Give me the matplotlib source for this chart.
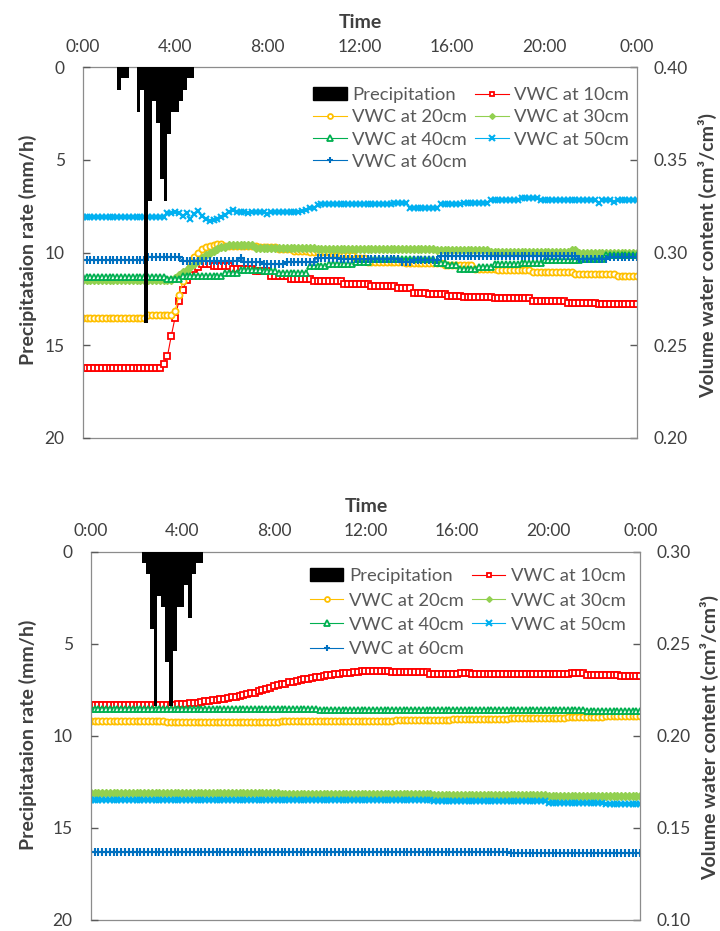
import numpy as np
import matplotlib
matplotlib.use('Agg')
import matplotlib.pyplot as plt
from matplotlib.patches import Patch

plt.rcParams['font.family'] = ['Lato', 'DejaVu Sans']

# ---------------- data ----------------
time_tick_hours = [0, 4, 8, 12, 16, 20, 24]
time_tick_labels = ['0:00', '4:00', '8:00', '12:00', '16:00', '20:00', '0:00']
step_min = 10  # VWC readings every 10 minutes, 0:00 .. 24:00 (145 points)

series_labels = ['VWC at 10cm', 'VWC at 20cm', 'VWC at 30cm',
                 'VWC at 40cm', 'VWC at 50cm', 'VWC at 60cm']

# ---- Top chart: precipitation (10-min bins, start minute) in mm/h
top_rain_start_min = [90, 100, 110, 140, 150, 160, 170, 180, 190, 200, 210,
                      220, 230, 240, 250, 260, 270, 280]
top_rain_rate = [1.2, 0.6, 0.6, 2.4, 1.2, 13.8, 7.2, 1.8, 3.0, 6.0, 7.2,
                 3.6, 2.4, 2.4, 1.8, 1.2, 0.6, 0.6]

top_vwc10 = [
    0.238, 0.238, 0.238, 0.238, 0.238, 0.238, 0.238, 0.238, 0.238, 0.238,
    0.238, 0.238, 0.238, 0.238, 0.238, 0.238, 0.238, 0.238, 0.238, 0.238,
    0.238, 0.240, 0.244, 0.255, 0.265, 0.274, 0.280, 0.285, 0.289, 0.291,
    0.292, 0.2937, 0.2937, 0.2937, 0.2928, 0.2928, 0.2928, 0.2928, 0.2928, 0.2914,
    0.2914, 0.2914, 0.2914, 0.2914, 0.2914, 0.290, 0.290, 0.290, 0.290, 0.2874,
    0.2874, 0.2874, 0.2874, 0.2874, 0.286, 0.286, 0.286, 0.286, 0.286, 0.286,
    0.2847, 0.2847, 0.2847, 0.2847, 0.2847, 0.2847, 0.2847, 0.2847, 0.283, 0.283,
    0.283, 0.283, 0.283, 0.283, 0.283, 0.282, 0.282, 0.282, 0.282, 0.282,
    0.282, 0.282, 0.281, 0.281, 0.281, 0.281, 0.2785, 0.2785, 0.2785, 0.2785,
    0.2777, 0.2777, 0.2777, 0.2777, 0.2777, 0.2767, 0.2767, 0.2767, 0.2767, 0.276,
    0.276, 0.276, 0.276, 0.276, 0.276, 0.276, 0.276, 0.2753, 0.2753, 0.2753,
    0.2753, 0.2753, 0.2753, 0.2753, 0.2753, 0.2753, 0.2753, 0.274, 0.274, 0.274,
    0.274, 0.274, 0.274, 0.274, 0.274, 0.274, 0.2731, 0.2731, 0.2731, 0.2731,
    0.2731, 0.2731, 0.2731, 0.2731, 0.2722, 0.2722, 0.2722, 0.2722, 0.2722, 0.2722,
    0.2722, 0.2722, 0.2722, 0.2722, 0.2722]

top_vwc20 = [
    0.265, 0.265, 0.265, 0.265, 0.265, 0.265, 0.265, 0.265, 0.265, 0.265,
    0.265, 0.265, 0.265, 0.265, 0.265, 0.265, 0.265, 0.2663, 0.2663, 0.2663,
    0.2663, 0.2663, 0.2663, 0.2663, 0.2685, 0.277, 0.2845, 0.290, 0.2945, 0.2975,
    0.300, 0.3017, 0.3028, 0.3036, 0.3043, 0.3047, 0.3045, 0.3035, 0.3035, 0.3035,
    0.3035, 0.3035, 0.3035, 0.3035, 0.3035, 0.3035, 0.3028, 0.3028, 0.3028, 0.3028,
    0.3028, 0.302, 0.302, 0.302, 0.302, 0.301, 0.301, 0.301, 0.301, 0.3003,
    0.3003, 0.3003, 0.3003, 0.3003, 0.3003, 0.299, 0.299, 0.299, 0.299, 0.299,
    0.299, 0.2973, 0.2973, 0.2973, 0.295, 0.295, 0.295, 0.295, 0.295, 0.295,
    0.295, 0.295, 0.295, 0.295, 0.2946, 0.2946, 0.2946, 0.2946, 0.2946, 0.2946,
    0.2946, 0.2946, 0.2946, 0.2946, 0.2932, 0.2932, 0.2932, 0.2932, 0.2932, 0.2932,
    0.2932, 0.2932, 0.291, 0.291, 0.291, 0.291, 0.291, 0.291, 0.2907, 0.2907,
    0.2907, 0.2907, 0.2907, 0.2907, 0.2907, 0.2907, 0.2907, 0.2896, 0.2896, 0.2896,
    0.2896, 0.2896, 0.2896, 0.2896, 0.2896, 0.2896, 0.2896, 0.2896, 0.2887, 0.2887,
    0.2887, 0.2887, 0.2887, 0.2887, 0.2887, 0.2887, 0.2887, 0.2887, 0.2887, 0.2874,
    0.2874, 0.2874, 0.2874, 0.2874, 0.2874]

top_vwc30 = [
    0.2853, 0.2853, 0.2853, 0.2853, 0.2853, 0.2853, 0.2853, 0.2853, 0.2853, 0.2853,
    0.2853, 0.2853, 0.2853, 0.2853, 0.2853, 0.2853, 0.2853, 0.2853, 0.2853, 0.2853,
    0.2853, 0.2853, 0.2853, 0.2853, 0.2863, 0.2877, 0.2893, 0.2905, 0.2922, 0.2937,
    0.2953, 0.297, 0.2986, 0.2997, 0.3008, 0.3017, 0.3028, 0.3033, 0.3042, 0.3042,
    0.3042, 0.3042, 0.3042, 0.3042, 0.3042, 0.3027, 0.3027, 0.3027, 0.3027, 0.3027,
    0.3027, 0.3027, 0.3027, 0.3027, 0.3027, 0.3027, 0.3027, 0.3027, 0.3027, 0.3027,
    0.3027, 0.3022, 0.3022, 0.3022, 0.3022, 0.3022, 0.3022, 0.3022, 0.3022, 0.3022,
    0.3022, 0.3022, 0.3022, 0.3022, 0.3022, 0.3022, 0.3022, 0.3022, 0.3022, 0.3022,
    0.3022, 0.3022, 0.3022, 0.3022, 0.3022, 0.3022, 0.3022, 0.3022, 0.3022, 0.3022,
    0.3022, 0.3022, 0.3012, 0.3012, 0.3012, 0.3012, 0.3012, 0.3012, 0.3012, 0.3012,
    0.3012, 0.3012, 0.3012, 0.3012, 0.3014, 0.3014, 0.3005, 0.3005, 0.3005, 0.3005,
    0.3005, 0.3005, 0.3005, 0.3005, 0.3005, 0.3005, 0.3005, 0.3005, 0.3005, 0.3005,
    0.3005, 0.3005, 0.3005, 0.3005, 0.3005, 0.3005, 0.3005, 0.3014, 0.3014, 0.300,
    0.300, 0.300, 0.300, 0.300, 0.300, 0.300, 0.300, 0.300, 0.300, 0.300,
    0.300, 0.300, 0.300, 0.300, 0.300]

top_vwc40 = [
    0.2871, 0.2871, 0.2871, 0.2871, 0.2871, 0.2871, 0.2871, 0.2871, 0.2871, 0.2871,
    0.2871, 0.2871, 0.2871, 0.2871, 0.2871, 0.2871, 0.2871, 0.2871, 0.2871, 0.2871,
    0.2871, 0.2871, 0.286, 0.286, 0.286, 0.286, 0.2876, 0.2876, 0.2874, 0.2874,
    0.2874, 0.2874, 0.2874, 0.2874, 0.2874, 0.2874, 0.2874, 0.2889, 0.2889, 0.2889,
    0.2889, 0.2906, 0.2906, 0.2906, 0.2906, 0.2906, 0.2906, 0.290, 0.290, 0.290,
    0.290, 0.2892, 0.2892, 0.2892, 0.2892, 0.2892, 0.2892, 0.2892, 0.2892, 0.2928,
    0.2928, 0.2928, 0.2928, 0.2928, 0.2937, 0.2937, 0.2937, 0.2937, 0.2937, 0.2937,
    0.2937, 0.295, 0.295, 0.295, 0.295, 0.2966, 0.2966, 0.2966, 0.2966, 0.2966,
    0.2966, 0.2966, 0.2966, 0.2966, 0.2966, 0.2966, 0.2966, 0.2966, 0.2966, 0.2966,
    0.2966, 0.2966, 0.2946, 0.2946, 0.2946, 0.2932, 0.2932, 0.2932, 0.2914, 0.2914,
    0.2914, 0.2914, 0.2914, 0.292, 0.292, 0.292, 0.292, 0.2937, 0.2937, 0.2937,
    0.2937, 0.2937, 0.2937, 0.2937, 0.2946, 0.2946, 0.2946, 0.2946, 0.2946, 0.2946,
    0.2958, 0.2958, 0.2958, 0.2958, 0.2958, 0.2958, 0.2958, 0.2958, 0.2958, 0.2958,
    0.2968, 0.2968, 0.2968, 0.2968, 0.2968, 0.2968, 0.299, 0.299, 0.299, 0.299,
    0.299, 0.299, 0.299, 0.299, 0.299]

top_vwc50 = [
    0.319, 0.319, 0.319, 0.319, 0.319, 0.319, 0.319, 0.319, 0.319, 0.319,
    0.319, 0.319, 0.319, 0.319, 0.319, 0.319, 0.319, 0.319, 0.319, 0.319,
    0.319, 0.3195, 0.3215, 0.3215, 0.322, 0.3215, 0.3197, 0.3215, 0.318, 0.321,
    0.3224, 0.320, 0.318, 0.317, 0.3178, 0.318, 0.319, 0.3205, 0.322, 0.3232,
    0.3218, 0.3218, 0.3218, 0.3212, 0.3218, 0.3218, 0.3218, 0.3218, 0.321, 0.3218,
    0.3218, 0.3218, 0.3218, 0.3218, 0.3218, 0.3218, 0.322, 0.3225, 0.323, 0.324,
    0.324, 0.3255, 0.326, 0.326, 0.326, 0.326, 0.3262, 0.3262, 0.3262, 0.3262,
    0.3262, 0.3262, 0.3262, 0.3262, 0.3262, 0.3262, 0.3262, 0.3262, 0.3262, 0.3262,
    0.3262, 0.3266, 0.3266, 0.3266, 0.3266, 0.3242, 0.3242, 0.3242, 0.3242, 0.3242,
    0.3242, 0.3242, 0.3242, 0.326, 0.326, 0.326, 0.326, 0.326, 0.326, 0.3269,
    0.3269, 0.3269, 0.3269, 0.3269, 0.3269, 0.3269, 0.3283, 0.3283, 0.3283, 0.3283,
    0.3283, 0.3283, 0.3283, 0.3283, 0.3296, 0.3296, 0.3296, 0.3296, 0.3296, 0.3283,
    0.3283, 0.3283, 0.3283, 0.3283, 0.3283, 0.3283, 0.3283, 0.3283, 0.3283, 0.3283,
    0.3283, 0.3283, 0.3283, 0.3283, 0.327, 0.3283, 0.3283, 0.3283, 0.3272, 0.3283,
    0.3283, 0.3283, 0.3283, 0.3283, 0.3283]

top_vwc60 = [
    0.296, 0.296, 0.296, 0.296, 0.296, 0.296, 0.296, 0.296, 0.296, 0.296,
    0.296, 0.296, 0.296, 0.296, 0.296, 0.296, 0.296, 0.2976, 0.2976, 0.2976,
    0.2976, 0.2976, 0.2976, 0.2976, 0.2976, 0.2976, 0.2955, 0.2955, 0.2955, 0.2955,
    0.2955, 0.2955, 0.2955, 0.2955, 0.2955, 0.2955, 0.2955, 0.2955, 0.2955, 0.2955,
    0.2955, 0.297, 0.295, 0.295, 0.295, 0.295, 0.295, 0.2937, 0.2937, 0.2937,
    0.2937, 0.2937, 0.2937, 0.295, 0.295, 0.295, 0.295, 0.295, 0.295, 0.295,
    0.295, 0.2973, 0.2973, 0.2973, 0.2973, 0.2973, 0.2973, 0.2964, 0.2964, 0.2964,
    0.2964, 0.2964, 0.2964, 0.2964, 0.2964, 0.2964, 0.2964, 0.2964, 0.2964, 0.2964,
    0.2964, 0.2964, 0.2964, 0.295, 0.295, 0.295, 0.296, 0.296, 0.296, 0.296,
    0.296, 0.296, 0.296, 0.2982, 0.2982, 0.2982, 0.2982, 0.2982, 0.2982, 0.2982,
    0.2982, 0.2982, 0.2982, 0.2982, 0.2982, 0.2982, 0.2982, 0.2982, 0.2982, 0.2982,
    0.2982, 0.2982, 0.2982, 0.2982, 0.2982, 0.2982, 0.2982, 0.2982, 0.2982, 0.2982,
    0.2982, 0.2982, 0.2982, 0.2982, 0.2982, 0.2982, 0.2982, 0.2982, 0.2982, 0.2968,
    0.2968, 0.2968, 0.2968, 0.2968, 0.2968, 0.2968, 0.2968, 0.2979, 0.2979, 0.2979,
    0.2979, 0.2979, 0.2979, 0.2979, 0.2979]

# ---- Bottom chart: precipitation (10-min bins, centre minute) in mm/h
bot_rain_mid_min = [140, 150, 160, 170, 180, 190, 200, 210, 220, 230, 240,
                    250, 260, 270, 280, 290]
bot_rain_rate = [0.6, 1.2, 4.2, 8.4, 2.4, 3.0, 6.0, 8.4, 5.4, 3.0, 3.0,
                 1.8, 3.6, 1.2, 0.6, 0.6]

bot_vwc10 = [
    0.217, 0.217, 0.217, 0.217, 0.217, 0.217, 0.217, 0.217, 0.217, 0.217,
    0.217, 0.217, 0.217, 0.217, 0.217, 0.217, 0.217, 0.217, 0.217, 0.217,
    0.217, 0.217, 0.217, 0.2171, 0.2172, 0.2174, 0.2176, 0.2178, 0.2181, 0.2184,
    0.2187, 0.219, 0.2193, 0.2196, 0.2199, 0.2202, 0.2205, 0.2209, 0.2213, 0.2218,
    0.2222, 0.2226, 0.223, 0.2234, 0.2241, 0.2248, 0.2255, 0.2262, 0.2268, 0.2274,
    0.2279, 0.2284, 0.229, 0.2295, 0.2299, 0.2303, 0.2307, 0.2311, 0.2315, 0.2319,
    0.2322, 0.2325, 0.2328, 0.2331, 0.2334, 0.2337, 0.234, 0.2342, 0.2344, 0.2346,
    0.2348, 0.235, 0.2352, 0.2353, 0.2353, 0.2353, 0.2353, 0.2353, 0.2353, 0.2347,
    0.2347, 0.2347, 0.2347, 0.2347, 0.2347, 0.2347, 0.2347, 0.2347, 0.2347, 0.2338,
    0.2338, 0.2338, 0.2338, 0.2338, 0.2338, 0.2338, 0.2338, 0.234, 0.234, 0.234,
    0.2338, 0.2338, 0.2338, 0.2338, 0.2338, 0.2338, 0.2338, 0.2338, 0.2338, 0.2338,
    0.2338, 0.2338, 0.2338, 0.2338, 0.2338, 0.2338, 0.2338, 0.2338, 0.2338, 0.2338,
    0.2335, 0.2335, 0.2335, 0.2335, 0.2335, 0.2335, 0.234, 0.234, 0.234, 0.234,
    0.2333, 0.2333, 0.2333, 0.2333, 0.2333, 0.2333, 0.2333, 0.2333, 0.2333, 0.2326,
    0.2326, 0.2326, 0.2326, 0.2326, 0.2326]

bot_vwc20 = [
    0.2078, 0.2078, 0.2078, 0.2078, 0.2078, 0.2078, 0.2078, 0.2078, 0.2078, 0.2078,
    0.2078, 0.2078, 0.2078, 0.2078, 0.2078, 0.2078, 0.2078, 0.2078, 0.2078, 0.2078,
    0.2075, 0.2075, 0.2075, 0.2075, 0.2075, 0.2075, 0.2075, 0.2075, 0.2075, 0.2075,
    0.2075, 0.2075, 0.2075, 0.2075, 0.2075, 0.2075, 0.2075, 0.2075, 0.2075, 0.2075,
    0.2075, 0.2075, 0.2075, 0.2075, 0.2075, 0.2075, 0.2075, 0.2075, 0.2075, 0.2075,
    0.2078, 0.2078, 0.2078, 0.2078, 0.2078, 0.2078, 0.2078, 0.2078, 0.2078, 0.2078,
    0.2078, 0.2078, 0.2078, 0.2078, 0.2078, 0.2082, 0.2082, 0.2082, 0.2082, 0.2082,
    0.2082, 0.2082, 0.2082, 0.2082, 0.2082, 0.2082, 0.2082, 0.2082, 0.2082, 0.2082,
    0.2087, 0.2087, 0.2087, 0.2087, 0.2087, 0.2087, 0.2087, 0.2087, 0.2087, 0.2087,
    0.2087, 0.2087, 0.2087, 0.2087, 0.2087, 0.2092, 0.2092, 0.2092, 0.2092, 0.2092,
    0.2092, 0.2092, 0.2092, 0.2092, 0.2092, 0.2092, 0.2092, 0.2092, 0.2092, 0.2092,
    0.2097, 0.2097, 0.2097, 0.2097, 0.2097, 0.2097, 0.2097, 0.2097, 0.2097, 0.2097,
    0.2097, 0.2097, 0.2097, 0.2097, 0.2097, 0.2102, 0.2102, 0.2102, 0.2102, 0.2102,
    0.2102, 0.2102, 0.2102, 0.2102, 0.2102, 0.2106, 0.2106, 0.2106, 0.2106, 0.2106,
    0.2106, 0.2106, 0.2106, 0.2106, 0.2106]

bot_vwc30 = [
    0.1687, 0.1687, 0.1687, 0.1687, 0.1687, 0.1687, 0.1687, 0.1687, 0.1687, 0.1687,
    0.1687, 0.1687, 0.1687, 0.1687, 0.1687, 0.1687, 0.1687, 0.1687, 0.1687, 0.1687,
    0.1687, 0.1687, 0.1687, 0.1687, 0.1687, 0.1687, 0.1687, 0.1687, 0.1687, 0.1687,
    0.1687, 0.1687, 0.1687, 0.1687, 0.1687, 0.1687, 0.1687, 0.1687, 0.1687, 0.1687,
    0.1687, 0.1687, 0.1687, 0.1687, 0.1687, 0.1687, 0.1687, 0.1687, 0.1687, 0.1687,
    0.1683, 0.1683, 0.1683, 0.1683, 0.1683, 0.1683, 0.1683, 0.1683, 0.1683, 0.1683,
    0.1683, 0.1683, 0.1683, 0.1683, 0.1683, 0.1683, 0.1683, 0.1683, 0.1683, 0.1683,
    0.1683, 0.1683, 0.1683, 0.1683, 0.1683, 0.1683, 0.1683, 0.1683, 0.1683, 0.1683,
    0.1683, 0.1683, 0.1683, 0.1683, 0.1683, 0.1683, 0.1683, 0.1683, 0.1683, 0.1683,
    0.1678, 0.1678, 0.1678, 0.1678, 0.1678, 0.1678, 0.1678, 0.1678, 0.1678, 0.1678,
    0.1678, 0.1678, 0.1678, 0.1678, 0.1678, 0.1678, 0.1678, 0.1678, 0.1678, 0.1678,
    0.1678, 0.1678, 0.1678, 0.1678, 0.1678, 0.1678, 0.1678, 0.1678, 0.1678, 0.1678,
    0.1673, 0.1673, 0.1673, 0.1673, 0.1673, 0.1673, 0.1673, 0.1673, 0.1673, 0.1673,
    0.1673, 0.1673, 0.1673, 0.1673, 0.1673, 0.1673, 0.1673, 0.1673, 0.1673, 0.1673,
    0.1673, 0.1673, 0.1673, 0.1673, 0.1673]

bot_vwc40 = [
    0.2145, 0.2145, 0.2145, 0.2145, 0.2145, 0.2145, 0.2145, 0.2145, 0.2145, 0.2145,
    0.2145, 0.2145, 0.2145, 0.2145, 0.2145, 0.2145, 0.2145, 0.2145, 0.2145, 0.2145,
    0.2145, 0.2145, 0.2145, 0.2145, 0.2145, 0.2145, 0.2145, 0.2145, 0.2145, 0.2145,
    0.2145, 0.2145, 0.2145, 0.2145, 0.2145, 0.2145, 0.2145, 0.2145, 0.2145, 0.2145,
    0.2145, 0.2145, 0.2145, 0.2145, 0.2145, 0.2145, 0.2145, 0.2145, 0.2145, 0.2145,
    0.2145, 0.2145, 0.2145, 0.2145, 0.2145, 0.2145, 0.2145, 0.2145, 0.2145, 0.2145,
    0.2142, 0.2142, 0.2142, 0.2142, 0.2142, 0.2142, 0.2142, 0.2142, 0.2142, 0.2142,
    0.2142, 0.2142, 0.2142, 0.2142, 0.2142, 0.2142, 0.2142, 0.2142, 0.2142, 0.2142,
    0.2142, 0.2142, 0.2142, 0.2142, 0.2142, 0.2142, 0.2142, 0.2142, 0.2142, 0.2142,
    0.2142, 0.2142, 0.2142, 0.2142, 0.2142, 0.2142, 0.2142, 0.2142, 0.2142, 0.2142,
    0.2138, 0.2138, 0.2138, 0.2138, 0.2138, 0.2138, 0.2138, 0.2138, 0.2138, 0.2138,
    0.2138, 0.2138, 0.2138, 0.2138, 0.2138, 0.2138, 0.2138, 0.2138, 0.2138, 0.2138,
    0.2138, 0.2138, 0.2138, 0.2138, 0.2138, 0.2138, 0.2138, 0.2138, 0.2138, 0.2138,
    0.2135, 0.2135, 0.2135, 0.2135, 0.2135, 0.2135, 0.2135, 0.2135, 0.2135, 0.2135,
    0.2135, 0.2135, 0.2135, 0.2135, 0.2135]

bot_vwc50 = [
    0.1649, 0.1649, 0.1649, 0.1649, 0.1649, 0.1649, 0.1649, 0.1649, 0.1649, 0.1649,
    0.1649, 0.1649, 0.1649, 0.1649, 0.1649, 0.1649, 0.1649, 0.1649, 0.1649, 0.1649,
    0.1649, 0.1649, 0.1649, 0.1649, 0.1649, 0.1649, 0.1649, 0.1649, 0.1649, 0.1649,
    0.1649, 0.1649, 0.1649, 0.1649, 0.1649, 0.1649, 0.1649, 0.1649, 0.1649, 0.1649,
    0.1653, 0.1653, 0.1653, 0.1653, 0.1653, 0.1653, 0.1653, 0.1653, 0.1653, 0.1653,
    0.1653, 0.1653, 0.1653, 0.1653, 0.1653, 0.1653, 0.1653, 0.1653, 0.1653, 0.1653,
    0.1653, 0.1653, 0.1653, 0.1653, 0.1653, 0.1653, 0.1653, 0.1653, 0.1653, 0.1653,
    0.1653, 0.1653, 0.1653, 0.1653, 0.1653, 0.1653, 0.1653, 0.1653, 0.1653, 0.1653,
    0.1653, 0.1653, 0.1653, 0.1653, 0.1653, 0.1653, 0.1653, 0.1653, 0.1653, 0.1653,
    0.1645, 0.1645, 0.1645, 0.1645, 0.1645, 0.1645, 0.1645, 0.1645, 0.1645, 0.1645,
    0.1645, 0.1645, 0.1645, 0.1645, 0.1645, 0.1645, 0.1645, 0.1645, 0.1645, 0.1645,
    0.1645, 0.1645, 0.1645, 0.1645, 0.1645, 0.1645, 0.1645, 0.1645, 0.1645, 0.1645,
    0.1638, 0.1638, 0.1638, 0.1638, 0.1638, 0.1638, 0.1638, 0.1638, 0.1638, 0.1638,
    0.1638, 0.1638, 0.1638, 0.1638, 0.1638, 0.1632, 0.1632, 0.1632, 0.1632, 0.1632,
    0.1632, 0.1632, 0.1632, 0.1632, 0.1632]

bot_vwc60 = [
    0.1371, 0.1371, 0.1371, 0.1371, 0.1371, 0.1371, 0.1371, 0.1371, 0.1371, 0.1371,
    0.1371, 0.1371, 0.1371, 0.1371, 0.1371, 0.1371, 0.1371, 0.1371, 0.1371, 0.1371,
    0.1371, 0.1371, 0.1371, 0.1371, 0.1371, 0.1371, 0.1371, 0.1371, 0.1371, 0.1371,
    0.1371, 0.1371, 0.1371, 0.1371, 0.1371, 0.1371, 0.1371, 0.1371, 0.1371, 0.1371,
    0.1371, 0.1371, 0.1371, 0.1371, 0.1371, 0.1371, 0.1371, 0.1371, 0.1371, 0.1371,
    0.1371, 0.1371, 0.1371, 0.1371, 0.1371, 0.1371, 0.1371, 0.1371, 0.1371, 0.1371,
    0.1371, 0.1371, 0.1371, 0.1371, 0.1371, 0.1371, 0.1371, 0.1371, 0.1371, 0.1371,
    0.1368, 0.1368, 0.1368, 0.1368, 0.1368, 0.1368, 0.1368, 0.1368, 0.1368, 0.1368,
    0.1368, 0.1368, 0.1368, 0.1368, 0.1368, 0.1368, 0.1368, 0.1368, 0.1368, 0.1368,
    0.1368, 0.1368, 0.1368, 0.1368, 0.1368, 0.1368, 0.1368, 0.1368, 0.1368, 0.1368,
    0.1368, 0.1368, 0.1368, 0.1368, 0.1368, 0.1368, 0.1368, 0.1368, 0.1368, 0.1368,
    0.1363, 0.1363, 0.1363, 0.1363, 0.1363, 0.1363, 0.1363, 0.1363, 0.1363, 0.1363,
    0.1363, 0.1363, 0.1363, 0.1363, 0.1363, 0.1363, 0.1363, 0.1363, 0.1363, 0.1363,
    0.1363, 0.1363, 0.1363, 0.1363, 0.1363, 0.1363, 0.1363, 0.1363, 0.1363, 0.1363,
    0.1363, 0.1363, 0.1363, 0.1363, 0.1363]

# ---------------- styles ----------------
styles = [
    dict(color='#FF0000', marker='s', mfc='white', mec='#FF0000', ms=4.2, mew=1.3, lw=0.8),
    dict(color='#FFC000', marker='o', mfc='white', mec='#FFC000', ms=4.4, mew=1.3, lw=0.8),
    dict(color='#92D050', marker='D', mfc='#92D050', mec='#92D050', ms=3.6, mew=1.0, lw=0.8),
    dict(color='#00B050', marker='^', mfc='white', mec='#00B050', ms=4.6, mew=1.3, lw=0.8),
    dict(color='#00B0F0', marker='x', mec='#00B0F0', ms=4.6, mew=1.5, lw=0.8),
    dict(color='#0070C0', marker='+', mec='#0070C0', ms=5.6, mew=1.5, lw=0.8),
]
legend_marker_scale = 0.8

W, H = 720, 931
fig = plt.figure(figsize=(W / 100, H / 100), dpi=100)

TICK_COLOR = '#404040'
SPINE_COLOR = '#8c8c8c'


def px_rect(left, top, right, bottom):
    return [left / W, 1 - bottom / H, (right - left) / W, (bottom - top) / H]


def panel(rect, vmin, vmax, rain_x_min, rain_rate, align, vwc, leg_anchor, leg_spacing):
    axv = fig.add_axes(rect)
    axp = axv.twinx()
    axv.yaxis.tick_right()
    axv.yaxis.set_label_position('right')
    axp.yaxis.tick_left()
    axp.yaxis.set_label_position('left')
    axv.xaxis.tick_top()

    t = np.arange(len(vwc[0])) * step_min / 60.0
    handles = []
    for vals, lab, st in zip(vwc, series_labels, styles):
        ln, = axv.plot(t, vals, label=lab, **st)
        handles.append(ln)

    axp.bar(np.array(rain_x_min) / 60.0, rain_rate, width=step_min / 60.0,
            align=align, color='black', linewidth=0)

    axv.set_xlim(0, 24)
    axv.set_ylim(vmin, vmax)
    axp.set_ylim(20, 0)
    axp.set_yticks([0, 5, 10, 15, 20])
    vt = np.linspace(vmin, vmax, 5)
    axv.set_yticks(vt)
    axv.set_yticklabels([f'{v:.2f}' for v in vt])
    axv.set_xticks(time_tick_hours)
    axv.set_xticklabels(time_tick_labels)

    axv.tick_params(axis='x', which='both', length=0, pad=9, labelsize=12.5,
                    labelcolor=TICK_COLOR, top=True, bottom=False,
                    labeltop=True, labelbottom=False)
    axv.tick_params(axis='y', direction='in', length=5, width=1, color='#595959',
                    pad=12, labelsize=12.5, labelcolor=TICK_COLOR)
    axp.tick_params(axis='y', direction='in', length=5, width=1, color='#595959',
                    pad=13, labelsize=12.5, labelcolor=TICK_COLOR)
    for s in axv.spines.values():
        s.set_color(SPINE_COLOR)
        s.set_linewidth(0.9)
    for s in axp.spines.values():
        s.set_visible(False)

    rain_handle = Patch(facecolor='black', edgecolor='black')
    order_h = [rain_handle, handles[1], handles[3], handles[5], handles[0], handles[2], handles[4]]
    order_l = ['Precipitation', series_labels[1], series_labels[3], series_labels[5],
               series_labels[0], series_labels[2], series_labels[4]]
    leg = axp.legend(order_h, order_l, loc='upper left', bbox_to_anchor=leg_anchor,
                     ncol=2, frameon=False, fontsize=13.3, numpoints=1,
                     markerscale=legend_marker_scale,
                     handlelength=1.8, handletextpad=0.3, columnspacing=0.45,
                     labelspacing=leg_spacing, borderpad=0, borderaxespad=0)
    for tx in leg.get_texts():
        tx.set_color('#595959')
    return axv, axp


top_rect = px_rect(82.7, 67.3, 637, 438)
bot_rect = px_rect(90.7, 551.7, 640.3, 920)

panel(top_rect, 0.20, 0.40, top_rain_start_min, top_rain_rate, 'edge',
      [top_vwc10, top_vwc20, top_vwc30, top_vwc40, top_vwc50, top_vwc60],
      (0.416, 0.946), 0.33)
panel(bot_rect, 0.10, 0.30, bot_rain_mid_min, bot_rain_rate, 'center',
      [bot_vwc10, bot_vwc20, bot_vwc30, bot_vwc40, bot_vwc50, bot_vwc60],
      (0.399, 0.955), 0.45)

title_kw = dict(fontsize=14, fontweight='bold', color='#404040', ha='center', va='center')
# top panel titles
fig.text(360 / W, 1 - 22 / H, 'Time', **title_kw)
fig.text(28 / W, 1 - 250 / H, 'Precipitataion rate (mm/h)', rotation=90, **title_kw)
fig.text(708 / W, 1 - 255 / H, 'Volume water content (cm³/cm³)', rotation=90, **title_kw)
# bottom panel titles
fig.text(366 / W, 1 - 507 / H, 'Time', **title_kw)
fig.text(28 / W, 1 - 735 / H, 'Precipitataion rate (mm/h)', rotation=90, **title_kw)
fig.text(710 / W, 1 - 737 / H, 'Volume water content (cm³/cm³)', rotation=90, **title_kw)

fig.savefig('out.png', dpi=100, facecolor='white')
